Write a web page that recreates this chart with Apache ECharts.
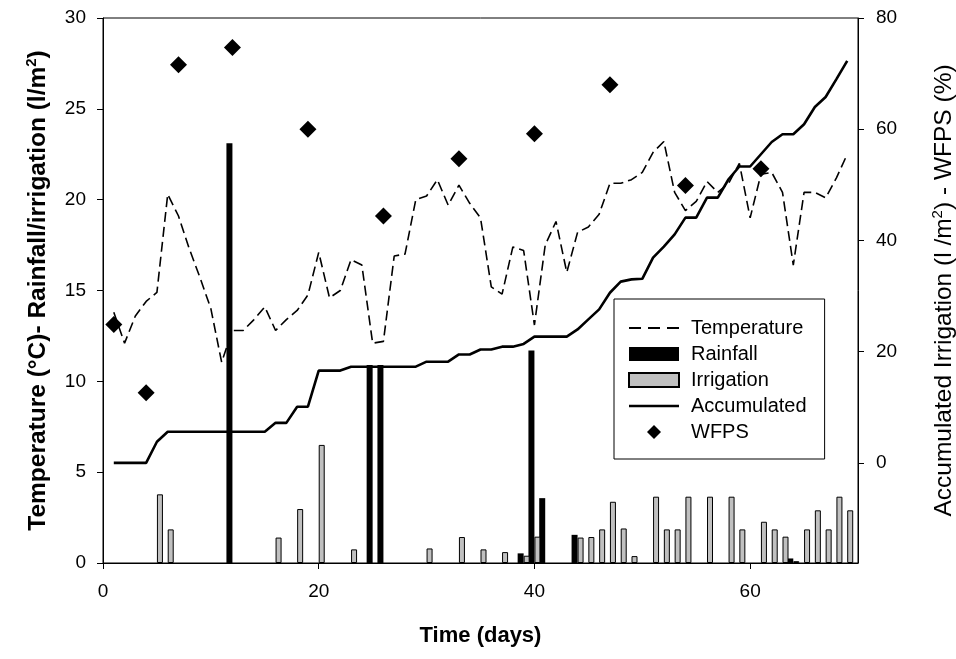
<!DOCTYPE html>
<html>
<head>
<meta charset="utf-8">
<script src="https://cdn.jsdelivr.net/npm/echarts@6/dist/echarts.min.js"></script>
<style>
html,body{margin:0;padding:0;background:#fff;}
#chart{width:956px;height:659px;}
</style>
</head>
<body>
<div id="chart"></div>
<script>
// ---- data ----
const days = [1,2,3,4,5,6,7,8,9,10,11,12,13,14,15,16,17,18,19,20,21,22,23,24,25,26,27,28,29,30,31,32,33,34,35,36,37,38,39,40,41,42,43,44,45,46,47,48,49,50,51,52,53,54,55,56,57,58,59,60,61,62,63,64,65,66,67,68,69];
const temperature = [13.8,12.1,13.6,14.4,14.9,20.3,19.1,17.3,15.7,14.0,11.05,12.8,12.8,13.4,14.1,12.8,13.4,13.9,14.75,17.1,14.6,15.0,16.7,16.4,12.1,12.2,16.9,17.0,20.0,20.2,21.1,19.7,20.8,19.8,19.0,15.2,14.8,17.4,17.2,13.1,17.5,18.8,16.0,18.2,18.5,19.2,20.9,20.9,21.1,21.5,22.6,23.2,20.4,19.4,19.9,21.0,20.4,20.9,22.0,19.0,21.4,21.5,20.4,16.4,20.4,20.4,20.1,21.2,22.5];
const accumulated = [0,0,0,0,3.8,5.6,5.6,5.6,5.6,5.6,5.6,5.6,5.6,5.6,5.6,7.2,7.2,10.1,10.1,16.6,16.6,16.6,17.3,17.3,17.3,17.3,17.3,17.3,17.3,18.2,18.2,18.2,19.5,19.5,20.4,20.4,20.9,20.9,21.4,22.7,22.7,22.7,22.7,24.0,25.8,27.6,30.6,32.6,33.0,33.1,36.9,38.9,41.1,44.1,44.1,47.7,47.7,51.0,53.3,53.3,55.5,57.7,59.1,59.1,60.9,64.0,65.8,69.0,72.3];
const rainDays = [12,25,26,39,40,41,44,64];
const rainfall = [23.1,10.9,10.9,0.53,11.7,3.57,1.55,0.25];
const irrDays = [5,6,16,18,20,23,30,33,35,37,39,40,44,45,46,47,48,49,51,52,53,54,56,58,59,61,62,63,64,65,66,67,68,69];
const irrigation = [3.78,1.85,1.4,2.97,6.5,0.75,0.8,1.43,0.75,0.6,0.4,1.45,1.4,1.43,1.85,3.37,1.9,0.38,3.65,1.85,1.85,3.65,3.65,3.65,1.85,2.27,1.85,1.45,0.1,1.85,2.9,1.85,3.65,2.9];
const wfpsDays = [1,4,7,12,19,26,33,40,47,54,61];
const wfps = [24.9,12.6,71.6,74.7,60.0,44.4,54.7,59.2,68.0,49.9,52.9];
const xTickValues = [0,20,40,60];
const rightTickValues = [0,20,40,60,80];

const FONT = 'Liberation Sans, Arial, Helvetica, sans-serif';
const pair = (xs, ys) => xs.map((x, i) => [x, ys[i]]);

const chart = echarts.init(document.getElementById('chart'), null, {renderer: 'canvas'});
chart.setOption({
  animation: false,
  backgroundColor: '#fff',
  textStyle: {fontFamily: FONT, color: '#000'},
  grid: {left: 103, right: 98, top: 18, bottom: 96, containLabel: false, outerBoundsMode: 'none',
         show: true, borderColor: '#000', borderWidth: 1, backgroundColor: 'transparent'},
  legend: {
    left: 614, top: 299, orient: 'vertical',
    padding: [19, 18, 17, 14],
    itemWidth: 50, itemHeight: 14, itemGap: 6,
    symbolKeepAspect: true,
    borderColor: '#000', borderWidth: 1,
    textStyle: {fontFamily: FONT, fontSize: 20, color: '#000', padding: [0, 0, 0, 7]},
    data: [
      {name: 'Temperature', icon: 'path://M0,0h12v2h-12z M19,0h12v2h-12z M38,0h12v2h-12z'},
      {name: 'Rainfall', icon: 'rect'},
      {name: 'Irrigation', icon: 'rect'},
      {name: 'Accumulated', icon: 'path://M0,0h50v2.6h-50z'},
      {name: 'WFPS', icon: 'path://M8,0L16,8L8,16L0,8Z'}
    ]
  },
  xAxis: {
    type: 'value', min: 0, max: 70,
    name: 'Time (days)', nameLocation: 'middle', nameGap: 62,
    nameTextStyle: {fontFamily: FONT, fontSize: 22, fontWeight: 'bold', color: '#000'},
    axisLine: {show: true, lineStyle: {color: '#000', width: 1}},
    axisTick: {show: true, length: 6, lineStyle: {color: '#000'}, customValues: xTickValues},
    axisLabel: {fontFamily: FONT, fontSize: 19, color: '#000', margin: 19, customValues: xTickValues},
    splitLine: {show: false}
  },
  yAxis: [{
    type: 'value', min: 0, max: 30, interval: 5, position: 'left',
    name: '{t|Temperature (°C)- Rainfall/irrigation (l/m}{s|2}{t|)}',
    nameLocation: 'middle', nameGap: 51, nameRotate: 90,
    nameTextStyle: {rich: {
      t: {fontFamily: FONT, fontSize: 24.5, fontWeight: 'bold', color: '#000', lineHeight: 28},
      s: {fontFamily: FONT, fontSize: 15, fontWeight: 'bold', color: '#000', lineHeight: 14, verticalAlign: 'top'}
    }},
    axisLine: {show: true, lineStyle: {color: '#000', width: 1}},
    axisTick: {show: true, length: 6, lineStyle: {color: '#000'}},
    axisLabel: {fontFamily: FONT, fontSize: 19, color: '#000', margin: 17},
    splitLine: {show: false}
  }, {
    type: 'value', min: -18, max: 80, position: 'right',
    name: '{t|Accumulated Irrigation (l /m}{s|2}{t|) - WFPS (%)}',
    nameLocation: 'middle', nameGap: 72, nameRotate: 90,
    nameTextStyle: {rich: {
      t: {fontFamily: FONT, fontSize: 24.5, color: '#000', lineHeight: 28},
      s: {fontFamily: FONT, fontSize: 15, color: '#000', lineHeight: 14, verticalAlign: 'top'}
    }},
    axisLine: {show: true, lineStyle: {color: '#000', width: 1}},
    axisTick: {show: true, length: 6, lineStyle: {color: '#000'}, customValues: rightTickValues},
    axisLabel: {fontFamily: FONT, fontSize: 19, color: '#000', margin: 18, customValues: rightTickValues},
    splitLine: {show: false}
  }],
  series: [{
    name: 'Rainfall', type: 'bar', xAxisIndex: 0, yAxisIndex: 0,
    barWidth: 6, barGap: '0%',
    itemStyle: {color: '#000', borderColor: '#000', borderWidth: 0},
    data: pair(rainDays, rainfall), z: 3
  }, {
    name: 'Irrigation', type: 'bar', xAxisIndex: 0, yAxisIndex: 0,
    barWidth: 6, barGap: '0%',
    itemStyle: {color: '#c0c0c0', borderColor: '#000', borderWidth: 1},
    data: pair(irrDays, irrigation), z: 3
  }, {
    name: 'Temperature', type: 'line', xAxisIndex: 0, yAxisIndex: 0,
    symbol: 'none', showSymbol: false,
    lineStyle: {color: '#000', width: 1.6, type: [10, 5]},
    itemStyle: {color: '#000'},
    data: pair(days, temperature), z: 4
  }, {
    name: 'Accumulated', type: 'line', xAxisIndex: 0, yAxisIndex: 1,
    symbol: 'none', showSymbol: false,
    lineStyle: {color: '#000', width: 2.6},
    itemStyle: {color: '#000'},
    data: pair(days, accumulated), z: 4
  }, {
    name: 'WFPS', type: 'scatter', xAxisIndex: 0, yAxisIndex: 1,
    symbol: 'diamond', symbolSize: 17,
    itemStyle: {color: '#000', opacity: 1},
    data: pair(wfpsDays, wfps), z: 5
  }]
});
</script>
</body>
</html>
